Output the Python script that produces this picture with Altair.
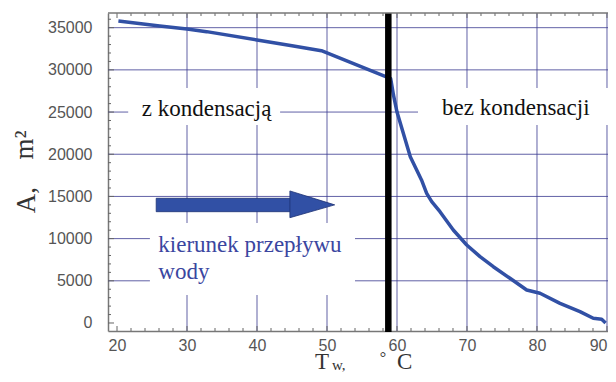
import altair as alt
import pandas as pd

# ---- data ----
T = [20.2, 26.1, 30.0, 32.8, 40.0, 45.0, 49.2, 59.1, 59.5, 60.0, 61.9, 63.5,
     64.24, 64.96, 66.14, 68.04, 69.96, 71.86, 73.76, 76.14, 78.53, 80.43,
     83.29, 86.14, 88.04, 89.24, 89.8]
A = [35800, 35200, 34850, 34530, 33540, 32850, 32270, 28950, 27000, 25000,
     19700, 16950, 15370, 14380, 13190, 11020, 9245, 7860, 6670, 5300, 3910,
     3520, 2330, 1340, 560, 440, 0]

x_ticks = [20, 30, 40, 50, 60, 70, 80, 90]
y_ticks = [0, 5000, 10000, 15000, 20000, 25000, 30000, 35000]
grid_x = [30, 40, 50, 60, 70, 80, 90]
grid_y = [5000, 10000, 15000, 20000, 25000, 30000, 35000]
minor_x = [v for v in range(20, 91, 2) if v % 10 != 0]
major_x = [20, 30, 40, 50, 60, 70, 80, 90]
minor_y = [v for v in range(0, 36001, 1000) if v % 5000 != 0]
major_y = [0, 5000, 10000, 15000, 20000, 25000, 30000, 35000]

t_split = [58.76]

labels = ["z kondensacją", "bez kondensacji"]
label_x = [32.8, 76.97]
label_y = [24550, 24650]

flow_lines = ["kierunek przepływu", "wody"]
flow_x = [25.9, 25.9]
flow_y = [8450, 5250]

# white boxes behind labels (grid is interrupted there)
box_x1 = [21.6, 63.0, 24.7]
box_x2 = [43.3, 90.143, 54.0]
box_y1 = [23470, 23470, 3320]
box_y2 = [27850, 27850, 11850]

# arrow: shaft + head
shaft_x = [25.6]
shaft_x2 = [44.9]
shaft_y = [13190]
shaft_y2 = [14780]
head_x = [44.7, 51.1]
head_top = [15650, 14000]
head_bot = [12480, 14000]

W, H = 500, 318
XD = [18.714, 90.143]
YD = [-950, 36740]
GRID = "#3a3a90"
BLUE = "#3150a5"
SERIF = "Liberation Serif"
LBL = dict(labelFont="Liberation Sans", labelFontSize=16, labelColor="#555",
           domainColor="#777", domainWidth=1.5)

xs = alt.Scale(domain=XD, nice=False, zero=False)
ys = alt.Scale(domain=YD, nice=False, zero=False)
x_axis = alt.Axis(values=x_ticks, title=None, grid=False, ticks=False, tickSize=0,
                  labelPadding=6, labelFlush=3, format="d", **LBL)
y_axis = alt.Axis(values=y_ticks, title=None, grid=False, ticks=False, tickSize=0,
                  labelPadding=16, labelFlush=False, format="d", **LBL)


def X(f):
    return alt.X(f, type="quantitative", scale=xs, axis=x_axis)


def Y(f):
    return alt.Y(f, type="quantitative", scale=ys, axis=y_axis)


curve_df = pd.DataFrame({"T": T, "A": A})
gx_df = pd.DataFrame({"x": grid_x})
gy_df = pd.DataFrame({"y": grid_y})
box_df = pd.DataFrame({"x1": box_x1, "x2": box_x2, "y1": box_y1, "y2": box_y2})
shaft_df = pd.DataFrame({"x1": shaft_x, "x2": shaft_x2, "y1": shaft_y, "y2": shaft_y2})
head_df = pd.DataFrame({"x": head_x, "y1": head_top, "y2": head_bot})
lab_df = pd.DataFrame({"t": labels, "x": label_x, "y": label_y})
flow_df = pd.DataFrame({"t": flow_lines, "x": flow_x, "y": flow_y})
split_df = pd.DataFrame({"x": t_split})
mnx_df = pd.DataFrame({"x": minor_x})
mjx_df = pd.DataFrame({"x": major_x})
mny_df = pd.DataFrame({"y": minor_y})
mjy_df = pd.DataFrame({"y": major_y})

vgrid = alt.Chart(gx_df).mark_rule(color=GRID, strokeWidth=1, opacity=0.8).encode(
    x=X("x"), y=alt.value(0), y2=alt.value(H))
hgrid = alt.Chart(gy_df).mark_rule(color=GRID, strokeWidth=1, opacity=0.8).encode(
    y=Y("y"), x=alt.value(0), x2=alt.value(W))
boxes = alt.Chart(box_df).mark_rect(color="white").encode(
    x=X("x1"), x2=alt.X2("x2"), y=Y("y1"), y2=alt.Y2("y2"))
curve = alt.Chart(curve_df).mark_line(color=BLUE, strokeWidth=3.5, strokeJoin="round").encode(
    x=X("T"), y=Y("A"))
split = alt.Chart(split_df).mark_rule(color="black", strokeWidth=6.5).encode(
    x=X("x"), y=alt.value(0), y2=alt.value(H + 1))
shaft = alt.Chart(shaft_df).mark_rect(color=BLUE, stroke="#1e3275", strokeWidth=0.8).encode(
    x=X("x1"), x2=alt.X2("x2"), y=Y("y1"), y2=alt.Y2("y2"))
head = alt.Chart(head_df).mark_area(color=BLUE, stroke="#1e3275", strokeWidth=0.8,
                                    opacity=1).encode(
    x=X("x"), y=Y("y1"), y2=alt.Y2("y2"))
labs = alt.Chart(lab_df).mark_text(font=SERIF, fontSize=23, color="#111",
                                   align="center", baseline="alphabetic").encode(
    x=X("x"), y=Y("y"), text="t:N")
flow = alt.Chart(flow_df).mark_text(font=SERIF, fontSize=23, color="#3a46a0",
                                    align="left", baseline="alphabetic").encode(
    x=X("x"), y=Y("y"), text="t:N")

TICKC = "#666"
bx_mn = alt.Chart(mnx_df).mark_rule(color=TICKC, strokeWidth=1).encode(
    x=X("x"), y=alt.value(H), y2=alt.value(H - 3))
bx_mj = alt.Chart(mjx_df).mark_rule(color=TICKC, strokeWidth=1).encode(
    x=X("x"), y=alt.value(H), y2=alt.value(H - 5))
tx_mn = alt.Chart(mnx_df).mark_rule(color=TICKC, strokeWidth=1).encode(
    x=X("x"), y=alt.value(0), y2=alt.value(3))
tx_mj = alt.Chart(mjx_df).mark_rule(color=TICKC, strokeWidth=1).encode(
    x=X("x"), y=alt.value(0), y2=alt.value(5))
ly_mn = alt.Chart(mny_df).mark_rule(color=TICKC, strokeWidth=1).encode(
    y=Y("y"), x=alt.value(0), x2=alt.value(3))
ly_mj = alt.Chart(mjy_df).mark_rule(color=TICKC, strokeWidth=1).encode(
    y=Y("y"), x=alt.value(0), x2=alt.value(6))
top_line = alt.Chart(gx_df.head(1)).mark_rule(color="#777", strokeWidth=1.5).encode(
    x=alt.value(0), x2=alt.value(W), y=alt.value(0))


def txt(s, px, py, fs, **kw):
    d = pd.DataFrame({"t": [s]})
    return alt.Chart(d).mark_text(font=SERIF, color="#333", fontSize=fs, **kw).encode(
        x=alt.value(px), y=alt.value(py), text="t:N")


# x-axis title pieces: T_w, °C
xt_T = txt("T", 207, 356, 23, align="left", baseline="alphabetic")
xt_w = txt("w,", 224, 357, 15, align="left", baseline="alphabetic")
xt_deg = txt("°", 275, 350, 16, align="center", baseline="alphabetic")
xt_C = txt("C", 289, 356, 23, align="left", baseline="alphabetic")
# y-axis title pieces: A, m²
yt_A = txt("A,", -81, 187, 27, align="center", baseline="middle", angle=270)
yt_m = txt("m²", -83, 132, 27, align="center", baseline="middle", angle=270)

chart = alt.layer(
    vgrid, hgrid, boxes, curve, split, shaft, head, labs, flow,
    bx_mn, bx_mj, tx_mn, tx_mj, ly_mn, ly_mj, top_line,
    xt_T, xt_w, xt_deg, xt_C, yt_A, yt_m
).properties(
    width=W, height=H,
    background="white",
    autosize=alt.AutoSizeParams(type="none"),
    padding={"left": 100, "top": 5, "right": 0, "bottom": 43},
).configure_view(stroke=None)

chart.save("out.html", embed_options={"renderer": "svg", "actions": False})
